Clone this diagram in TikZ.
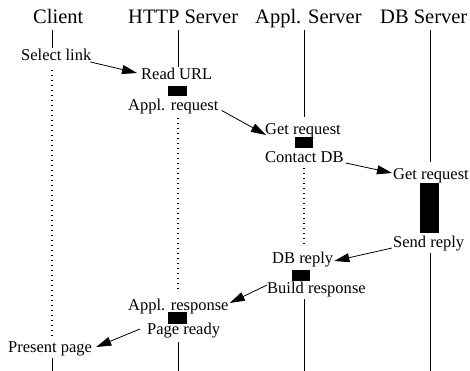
\documentclass[tikz,border=0pt]{standalone}
\usepackage{fontspec}
\setmainfont{Liberation Serif}
\usetikzlibrary{arrows.meta}
\begin{document}
\begin{tikzpicture}[x=1pt,y=-1pt,
  hdr/.style={font=\fontsize{20.5}{24}\selectfont, inner sep=0pt, anchor=base west},
  lbl/.style={font=\fontsize{16.5}{19}\selectfont, inner sep=0pt, anchor=base west},
  life/.style={line width=0.8pt},
  dots/.style={line width=1.1pt, dash pattern=on 1.1pt off 3.9pt},
  act/.style={fill=black, draw=none, inner sep=0pt},
  msg/.style={line width=0.8pt, -{Triangle[length=15pt,width=9pt]}}]
\useasboundingbox (0,0) rectangle (470,371);

% headers
\node[hdr] (hC) at (33,24)  {Client};
\node[hdr] (hH) at (128,24) {HTTP Server};
\node[hdr] (hA) at (255,24) {Appl. Server};
\node[hdr] (hD) at (380,24) {DB Server};

% lifelines
\draw[life] (52,30) -- (52,48);
\draw[dots] (52,70) -- (52,337);
\draw[life] (52,358) -- (52,371);

\draw[life] (178,30) -- (178,67);
\draw[dots] (178,118) -- (178,290);
\draw[life] (178,342) -- (178,371);

\draw[life] (304,30) -- (304,117);
\draw[dots] (304,168) -- (304,247);
\draw[life] (304,299) -- (304,371);

\draw[life] (430,30) -- (430,162);
\draw[life] (430,253) -- (430,371);

% activation boxes
\node[act, minimum width=19pt, minimum height=10pt] (b1) at (177.5,91) {};
\node[act, minimum width=18pt, minimum height=11pt] (b2) at (304,142.5) {};
\node[act, minimum width=19pt, minimum height=50pt] (b3) at (429.5,208) {};
\node[act, minimum width=18pt, minimum height=11pt] (b4) at (301,275.5) {};
\node[act, minimum width=18.5pt, minimum height=12pt] (b5) at (177.5,318.3) {};

% labels
\node[lbl] (sel)     at (21,61)    {Select link};
\node[lbl] (read)    at (141,80)   {Read URL};
\node[lbl] (apreq)   at (128,110.5){Appl. request};
\node[lbl] (getA)    at (265,135)  {Get request};
\node[lbl] (contact) at (265,163)  {Contact DB};
\node[lbl] (getD)    at (393,179)  {Get request};
\node[lbl] (send)    at (393,247)  {Send reply};
\node[lbl] (dbrep)   at (272,263)  {DB reply};
\node[lbl] (build)   at (267,293)  {Build response};
\node[lbl] (apresp)  at (128,310)  {Appl. response};
\node[lbl] (page)    at (147,334)  {Page ready};
\node[lbl] (present) at (8,352)    {Present page};

% messages
\draw[msg] ([shift={(-1,1)}]sel.base east) -- ([shift={(-4,-7)}]read.base west);
\draw[msg] ([shift={(3,0)}]apreq.base east) -- ([shift={(1,0)}]getA.base west);
\draw[msg] ([shift={(2,0)}]contact.base east) -- ([shift={(-1,-6)}]getD.base west);
\draw[msg] ([shift={(-1,1)}]send.base west) -- ([shift={(1,-2)}]dbrep.base east);
\draw[msg] ([shift={(0,-8)}]build.base west) -- ([shift={(1,-7)}]apresp.base east);
\draw[msg] ([shift={(-7,-5)}]page.base west) -- ([shift={(4,-5)}]present.base east);
\end{tikzpicture}
\end{document}
